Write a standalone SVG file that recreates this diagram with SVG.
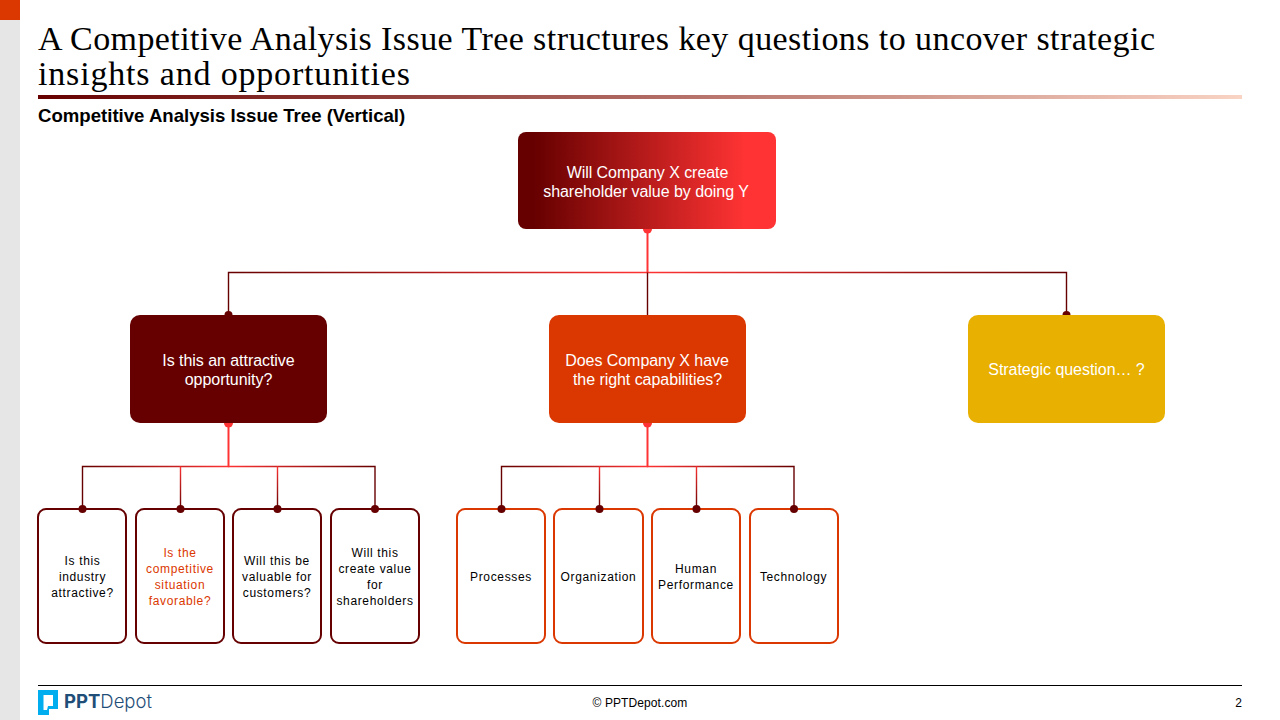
<svg xmlns="http://www.w3.org/2000/svg" width="1280" height="720" viewBox="0 0 1280 720">
<style>
text{font-family:"Liberation Sans",Arial,sans-serif}
.t{font-family:"Liberation Serif","Times New Roman",serif;font-size:34px;fill:#000}
.w{font-size:16px;fill:#fff;text-anchor:middle;letter-spacing:-.05px}
.l{font-size:12px;fill:#000;text-anchor:middle;letter-spacing:.65px}
.o{fill:#DB3700}
.c{fill:none;stroke-width:1.4}
.d1{stroke:#660000;fill:#fff;stroke-width:2}
.d2{stroke:#DB3700;fill:#fff;stroke-width:2}
.up{fill:#FF3333}.dn{fill:#660000}
</style>
<defs>
<linearGradient id="rule" gradientUnits="userSpaceOnUse" x1="38" y1="0" x2="1242" y2="0"><stop offset="0" stop-color="#660000"/><stop offset="1" stop-color="#F9D3C4"/></linearGradient>
<linearGradient id="root" x1="0" y1="0" x2="1" y2="0"><stop offset=".06" stop-color="#660000"/><stop offset=".88" stop-color="#FF3333"/></linearGradient>
<linearGradient id="aL" gradientUnits="userSpaceOnUse" x1="647" y1="0" x2="228" y2="0"><stop offset="0" stop-color="#FF3333"/><stop offset="1" stop-color="#660000"/></linearGradient>
<linearGradient id="aR" gradientUnits="userSpaceOnUse" x1="647" y1="0" x2="1066" y2="0"><stop offset="0" stop-color="#FF3333"/><stop offset="1" stop-color="#660000"/></linearGradient>
<linearGradient id="bL" gradientUnits="userSpaceOnUse" x1="228" y1="0" x2="82" y2="0"><stop offset="0" stop-color="#FF3333"/><stop offset="1" stop-color="#660000"/></linearGradient>
<linearGradient id="bR" gradientUnits="userSpaceOnUse" x1="228" y1="0" x2="375" y2="0"><stop offset="0" stop-color="#FF3333"/><stop offset="1" stop-color="#660000"/></linearGradient>
<linearGradient id="cL" gradientUnits="userSpaceOnUse" x1="647" y1="0" x2="501" y2="0"><stop offset="0" stop-color="#FF3333"/><stop offset="1" stop-color="#660000"/></linearGradient>
<linearGradient id="cR" gradientUnits="userSpaceOnUse" x1="647" y1="0" x2="794" y2="0"><stop offset="0" stop-color="#FF3333"/><stop offset="1" stop-color="#660000"/></linearGradient>
<linearGradient id="v" gradientUnits="userSpaceOnUse" x1="0" y1="466" x2="0" y2="508"><stop offset="0" stop-color="#FF3333"/><stop offset="1" stop-color="#660000"/></linearGradient>
</defs>
<g id="chrome">
<rect x="0" y="0" width="20" height="720" fill="#E6E6E6"/>
<rect x="0" y="0" width="20" height="20" fill="#DB3700"/>
<text class="t" x="38" y="49.500" textLength="1117">A Competitive Analysis Issue Tree structures key questions to uncover strategic</text>
<text class="t" x="38" y="84.500" textLength="372">insights and opportunities</text>
<rect x="38" y="95" width="1204" height="4" fill="url(#rule)"/>
<text x="38" y="122" font-size="18.6" font-weight="bold" fill="#000">Competitive Analysis Issue Tree (Vertical)</text>
</g>
<g id="connectors">
<path class="c" d="M647.500 230V272.500H228.500V315" stroke="url(#aL)"/>
<path class="c" d="M647.500 230V272.500H1066.500V315" stroke="url(#aR)"/>
<path class="c" d="M647.500 230V272.500" stroke="#FF3333"/>
<path class="c" d="M647.500 272.500V315" stroke="#660000" stroke-width="1"/>
<path class="c" d="M228.500 424V466.500H82.500V508" stroke="url(#bL)"/>
<path class="c" d="M228.500 424V466.500H375V508" stroke="url(#bR)"/>
<path class="c" d="M228.500 424V466.500" stroke="#FF3333"/>
<path class="c" d="M180.500 466.500V508" stroke="url(#v)"/>
<path class="c" d="M277.500 466.500V508" stroke="url(#v)"/>
<path class="c" d="M647.500 424V466.500H501.500V508" stroke="url(#cL)"/>
<path class="c" d="M647.500 424V466.500H794V508" stroke="url(#cR)"/>
<path class="c" d="M647.500 424V466.500" stroke="#FF3333"/>
<path class="c" d="M599.500 466.500V508" stroke="url(#v)"/>
<path class="c" d="M696.500 466.500V508" stroke="url(#v)"/>
</g>
<g id="node-root">
<circle class="up" cx="647.500" cy="229" r="4.500"/>
<rect x="518" y="132" width="258" height="97" rx="8" fill="url(#root)"/>
<text class="w" x="647.500" y="178">Will Company X create</text>
<text class="w" x="646" y="197">shareholder value by doing Y</text>
</g>
<g id="node-a">
<circle class="dn" cx="228.500" cy="315" r="4"/><circle class="up" cx="228.500" cy="423" r="4.500"/>
<rect x="130" y="315" width="197" height="108" rx="10" fill="#660000"/>
<text class="w" x="228.500" y="366">Is this an attractive</text>
<text class="w" x="228.500" y="385">opportunity?</text>
</g>
<g id="node-b">
<circle class="up" cx="647.500" cy="423" r="4.500"/>
<rect class="o" x="549" y="315" width="197" height="108" rx="10"/>
<text class="w" x="647" y="366">Does Company X have</text>
<text class="w" x="647.500" y="385">the right capabilities?</text>
</g>
<g id="node-c">
<circle class="dn" cx="1066.500" cy="315" r="4"/>
<rect x="968" y="315" width="197" height="108" rx="10" fill="#E8B000"/>
<text class="w" x="1066.500" y="375">Strategic question… ?</text>
</g>
<g id="leaf-a1"><rect class="d1" x="38" y="509" width="88" height="134" rx="8"/><circle class="dn" cx="82.500" cy="509" r="4"/>
<text class="l" x="82.500" y="565">Is this</text><text class="l" x="82.500" y="581">industry</text><text class="l" x="82.500" y="597">attractive?</text></g>
<g id="leaf-a2"><rect class="d1" x="136" y="509" width="88" height="134" rx="8"/><circle class="dn" cx="180.500" cy="509" r="4"/>
<text class="l" style="fill:#DB3700" x="180" y="557">Is the</text><text class="l" style="fill:#DB3700" x="180" y="573">competitive</text><text class="l" style="fill:#DB3700" x="180" y="589">situation</text><text class="l" style="fill:#DB3700" x="180" y="605">favorable?</text></g>
<g id="leaf-a3"><rect class="d1" x="233" y="509" width="88" height="134" rx="8"/><circle class="dn" cx="277.500" cy="509" r="4"/>
<text class="l" x="277" y="565">Will this be</text><text class="l" x="277" y="581">valuable for</text><text class="l" x="277" y="597">customers?</text></g>
<g id="leaf-a4"><rect class="d1" x="331" y="509" width="88" height="134" rx="8"/><circle class="dn" cx="375" cy="509" r="4"/>
<text class="l" x="375" y="557">Will this</text><text class="l" x="375" y="573">create value</text><text class="l" x="375" y="589">for</text><text class="l" x="375" y="605">shareholders</text></g>
<g id="leaf-b1"><rect class="d2" x="457" y="509" width="88" height="134" rx="8"/><circle class="dn" cx="501.500" cy="509" r="4"/>
<text class="l" x="501" y="581">Processes</text></g>
<g id="leaf-b2"><rect class="d2" x="554" y="509" width="89" height="134" rx="8"/><circle class="dn" cx="599.500" cy="509" r="4"/>
<text class="l" x="598.500" y="581">Organization</text></g>
<g id="leaf-b3"><rect class="d2" x="652" y="509" width="88" height="134" rx="8"/><circle class="dn" cx="696.500" cy="509" r="4"/>
<text class="l" x="696" y="573">Human</text><text class="l" x="696" y="589">Performance</text></g>
<g id="leaf-b4"><rect class="d2" x="750" y="509" width="88" height="134" rx="8"/><circle class="dn" cx="794" cy="509" r="4"/>
<text class="l" x="793.500" y="581">Technology</text></g>
<g id="footer">
<rect x="38" y="685" width="1204" height="1" fill="#000"/>
<path fill-rule="evenodd" d="M38 690H58V709H49V715H38ZM43.500 695V710H47L48 706H53V695Z" fill="#00AEEF"/>
<text x="64" y="708" font-size="18.500" font-weight="bold" style="font-family:Inter,sans-serif" fill="#1F4E79">PPT<tspan font-weight="300">Depot</tspan></text>
<text x="640" y="707" font-size="12" fill="#000" text-anchor="middle" letter-spacing=".1">© PPTDepot.com</text>
<text x="1242" y="707" font-size="12" fill="#000" text-anchor="end">2</text>
</g>
</svg>
